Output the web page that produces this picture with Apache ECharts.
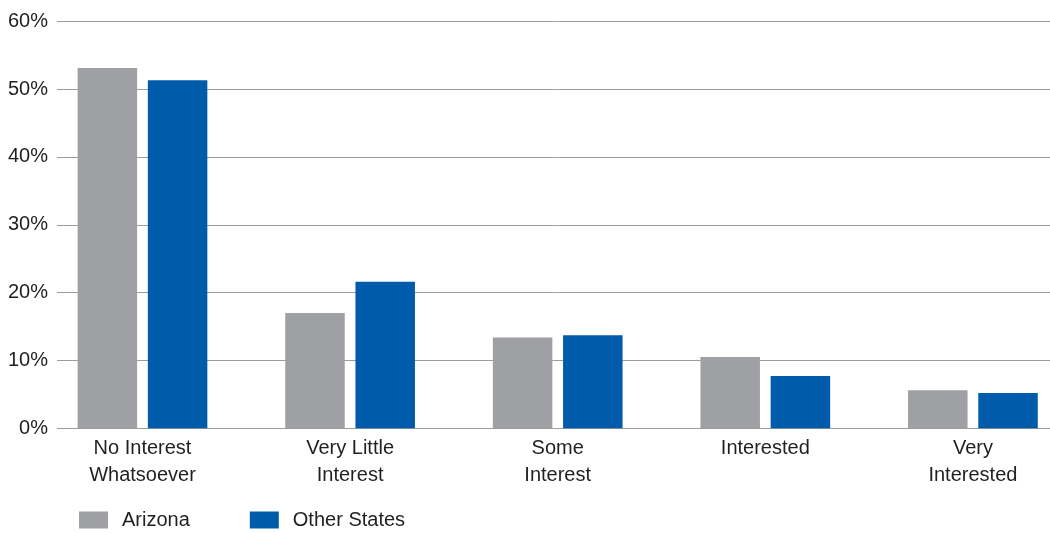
<!DOCTYPE html>
<html><head><meta charset="utf-8">
<script src="https://cdn.jsdelivr.net/npm/echarts@6/dist/echarts.min.js"></script>
<style>html,body{margin:0;padding:0;background:#fff}#c{width:1050px;height:533px}</style>
</head><body><div id="c"></div>
<script>
var categories = ['No Interest\nWhatsoever', 'Very Little\nInterest', 'Some\nInterest', 'Interested', 'Very\nInterested'];
var arizona = [53.1, 17.0, 13.4, 10.5, 5.6];
var otherStates = [51.3, 21.6, 13.7, 7.7, 5.2];
var yTicks = [0, 10, 20, 30, 40, 50, 60];

var FONT = '"Liberation Sans", Arial, sans-serif';
var positions = categories.map(function (c, i) { return i; });
var chart = echarts.init(document.getElementById('c'), null, {renderer: 'canvas'});
chart.setOption({
  animation: false,
  textStyle: {fontFamily: FONT},
  legend: {
    data: ['Arizona', 'Other States'],
    left: 74, top: 505,
    itemWidth: 29, itemHeight: 17, itemGap: 60,
    icon: 'rect',
    textStyle: {fontSize: 20, color: '#231f20', fontFamily: FONT, padding: [0, 0, 0, 9]}
  },
  grid: {left: 57, right: 0, top: 21.3, bottom: 104.7, containLabel: false, outerBoundsMode: 'none'},
  xAxis: {
    type: 'value', min: -0.4118, max: 4.3713,
    axisLine: {show: false}, axisTick: {show: false}, splitLine: {show: false},
    axisLabel: {
      fontSize: 20, color: '#231f20', lineHeight: 27, margin: 7, fontFamily: FONT,
      customValues: positions, hideOverlap: false,
      formatter: function (v) { return categories[Math.round(v)] || ''; }
    }
  },
  yAxis: {
    type: 'value', min: 0, max: yTicks[yTicks.length - 1], interval: 10,
    axisLine: {show: false}, axisTick: {show: false},
    splitLine: {show: true, lineStyle: {color: '#9d9d9d', width: 1}},
    axisLabel: {fontSize: 20, color: '#231f20', margin: 9, formatter: '{value}%', fontFamily: FONT}
  },
  series: [
    {name: 'Arizona', type: 'bar', data: arizona.map(function (v, i) { return [positions[i], v]; }),
     barWidth: 59.5, barGap: '18%', itemStyle: {color: '#9fa0a4'}},
    {name: 'Other States', type: 'bar', data: otherStates.map(function (v, i) { return [positions[i], v]; }),
     barWidth: 59.5, barGap: '18%', itemStyle: {color: '#005caa'}}
  ]
});
</script></body></html>
